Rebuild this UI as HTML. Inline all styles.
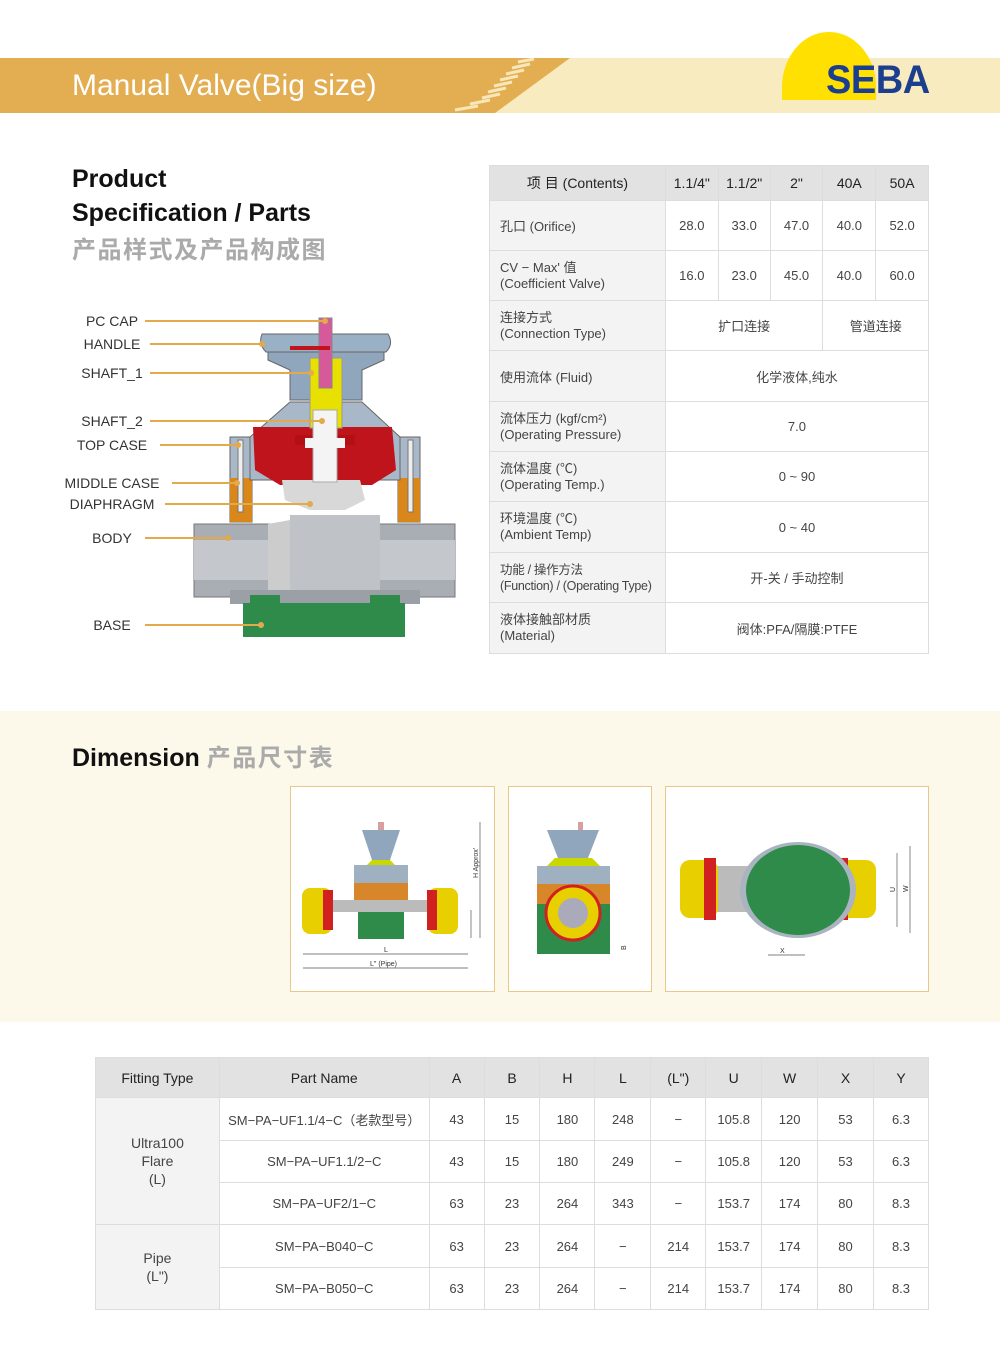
<!DOCTYPE html>
<html><head><meta charset="utf-8">
<style>
*{margin:0;padding:0;box-sizing:border-box}
body{width:1000px;height:1345px;background:#fff;position:relative;font-family:"Liberation Sans","Noto Sans CJK SC",sans-serif;color:#333;overflow:hidden}
.a{position:absolute}
.lbl{position:absolute;width:120px;left:52px;text-align:center;font-size:14px;color:#333;line-height:16px}
table{border-collapse:collapse;position:absolute;font-size:13px;color:#444}
td{border:1px solid #ddd;text-align:center;padding:0}
</style></head><body>
<!-- header -->
<div class="a" style="left:0;top:58px;width:1000px;height:55px;background:#f8ebc0"></div>
<svg class="a" style="left:0;top:58px" width="600" height="55"><polygon points="0,0 570,0 495,55 0,55" fill="#e3ad52"/>
<g stroke="#f8e7b8" stroke-width="3">
<line x1="518" y1="4" x2="534" y2="1"/><line x1="512" y1="10" x2="530" y2="6"/><line x1="506" y1="16" x2="524" y2="12"/><line x1="500" y1="22" x2="518" y2="18"/><line x1="494" y1="28" x2="512" y2="24"/><line x1="488" y1="34" x2="506" y2="30"/><line x1="482" y1="40" x2="500" y2="36"/><line x1="470" y1="46" x2="490" y2="42"/><line x1="455" y1="52" x2="478" y2="48"/></g></svg>
<div class="a" style="left:72px;top:69px;font-size:30px;color:#fff;letter-spacing:0px">Manual Valve(Big size)</div>
<div class="a" style="left:782px;top:32px;width:94px;height:68px;background:#ffe000;border-radius:47px 47px 0 0/55px 55px 0 0"></div>
<div class="a" style="left:826px;top:58px;font-size:40px;font-weight:bold;color:#1c3e8e;transform:scaleX(0.95);transform-origin:left;letter-spacing:-0.5px">SEBA</div>

<!-- product title -->
<div class="a" style="left:72px;top:162px;font-size:25px;font-weight:bold;color:#111;line-height:34px">Product<br>Specification / Parts</div>
<div class="a" style="left:72px;top:230px;font-size:24px;font-weight:bold;color:#aaa;letter-spacing:1.5px">产品样式及产品构成图</div>

<!-- labels -->
<div class="lbl" style="top:313px">PC CAP</div>
<div class="lbl" style="top:336px">HANDLE</div>
<div class="lbl" style="top:365px">SHAFT_1</div>
<div class="lbl" style="top:413px">SHAFT_2</div>
<div class="lbl" style="top:437px">TOP CASE</div>
<div class="lbl" style="top:475px">MIDDLE CASE</div>
<div class="lbl" style="top:496px">DIAPHRAGM</div>
<div class="lbl" style="top:530px">BODY</div>
<div class="lbl" style="top:617px">BASE</div>

<svg class="a" style="left:0;top:0" width="470" height="660">
<rect x="194" y="524" width="261" height="73" fill="#a9aeb4" stroke="#777"/>
<rect x="194" y="540" width="261" height="40" fill="#c4c8cc"/>
<rect x="230" y="590" width="190" height="14" fill="#9aa0a6"/>
<rect x="243" y="603" width="162" height="34" fill="#2e8b4a"/>
<rect x="250" y="595" width="30" height="12" fill="#2e8b4a"/><rect x="370" y="595" width="30" height="12" fill="#2e8b4a"/>
<path d="M268,524 L290,520 L290,590 L268,590 Z" fill="#ccc"/>
<path d="M290,515 L380,515 L380,590 L290,590 Z" fill="#bfc3c7"/>
<rect x="230" y="437" width="22" height="85" fill="#a8b8c8" stroke="#666"/>
<rect x="398" y="437" width="22" height="85" fill="#a8b8c8" stroke="#666"/>
<rect x="230" y="478" width="22" height="44" fill="#d9861a"/>
<rect x="398" y="478" width="22" height="44" fill="#d9861a"/>
<rect x="238" y="440" width="5" height="72" fill="#eee" stroke="#777"/>
<rect x="408" y="440" width="5" height="72" fill="#eee" stroke="#777"/>
<polygon points="250,437 290,402 362,402 400,437 400,480 250,480" fill="#a8b8c8" stroke="#666"/>
<polygon points="253,427 392,427 396,470 372,485 280,485 255,470" fill="#c0141c"/>
<rect x="295" y="435" width="60" height="10" fill="#b31015"/>
<polygon points="282,480 360,480 365,500 345,510 310,510 285,500" fill="#d8d8d8"/>
<polygon points="268,348 384,348 384,360 362,370 362,400 290,400 290,370 268,360" fill="#8fa6bd" stroke="#666"/>
<path d="M262,334 Q258,344 266,352 L386,352 Q394,344 388,334 Z" fill="#9ab0c4" stroke="#666"/>
<rect x="310" y="358" width="32" height="70" fill="#e8e000" stroke="#999"/>
<rect x="313" y="410" width="24" height="72" fill="#f4f4f4" stroke="#aaa"/>
<rect x="305" y="438" width="40" height="10" fill="#f4f4f4"/>
<rect x="319" y="318" width="13" height="70" fill="#d65a9a" stroke="#888"/>
<rect x="290" y="346" width="40" height="4" fill="#c0141c"/>
<g stroke="#e3a94b" stroke-width="2">
<line x1="145" y1="321" x2="325" y2="321"/>
<line x1="150" y1="344" x2="262" y2="344"/>
<line x1="150" y1="373" x2="311" y2="373"/>
<line x1="150" y1="421" x2="322" y2="421"/>
<line x1="160" y1="445" x2="238" y2="445"/>
<line x1="172" y1="483" x2="237" y2="483"/>
<line x1="165" y1="504" x2="310" y2="504"/>
<line x1="145" y1="538" x2="228" y2="538"/>
<line x1="145" y1="625" x2="261" y2="625"/>
</g>
<g fill="#e3a94b">
<circle cx="325" cy="321" r="3"/><circle cx="262" cy="344" r="3"/><circle cx="311" cy="373" r="3"/><circle cx="322" cy="421" r="3"/><circle cx="238" cy="445" r="3"/><circle cx="237" cy="483" r="3"/><circle cx="310" cy="504" r="3"/><circle cx="228" cy="538" r="3"/><circle cx="261" cy="625" r="3"/>
</g>
</svg>

<!-- spec table -->
<table style="left:489px;top:165px;width:440px">
<colgroup><col style="width:176px"><col style="width:53px"><col style="width:52px"><col style="width:53px"><col style="width:53px"><col style="width:53px"></colgroup>
<tr style="height:35px;background:#e2e2e2;font-size:14px;color:#222"><td>项 目 (Contents)</td><td>1.1/4"</td><td>1.1/2"</td><td>2"</td><td>40A</td><td>50A</td></tr>
<tr style="height:50px"><td style="text-align:left;padding-left:10px;background:#f3f3f3">孔口 (Orifice)</td><td>28.0</td><td>33.0</td><td>47.0</td><td>40.0</td><td>52.0</td></tr>
<tr style="height:50px"><td style="text-align:left;padding-left:10px;background:#f3f3f3;line-height:16px">CV − Max' 值<br>(Coefficient Valve)</td><td>16.0</td><td>23.0</td><td>45.0</td><td>40.0</td><td>60.0</td></tr>
<tr style="height:50px"><td style="text-align:left;padding-left:10px;background:#f3f3f3;line-height:16px">连接方式<br>(Connection Type)</td><td colspan="3">扩口连接</td><td colspan="2">管道连接</td></tr>
<tr style="height:51px"><td style="text-align:left;padding-left:10px;background:#f3f3f3">使用流体 (Fluid)</td><td colspan="5">化学液体,纯水</td></tr>
<tr style="height:50px"><td style="text-align:left;padding-left:10px;background:#f3f3f3;line-height:16px">流体压力 (kgf/cm²)<br>(Operating Pressure)</td><td colspan="5">7.0</td></tr>
<tr style="height:50px"><td style="text-align:left;padding-left:10px;background:#f3f3f3;line-height:16px">流体温度 (℃)<br>(Operating Temp.)</td><td colspan="5">0 ~ 90</td></tr>
<tr style="height:51px"><td style="text-align:left;padding-left:10px;background:#f3f3f3;line-height:16px">环境温度 (℃)<br>(Ambient Temp)</td><td colspan="5">0 ~ 40</td></tr>
<tr style="height:50px"><td style="text-align:left;padding-left:10px;background:#f3f3f3;line-height:16px;font-size:12.5px;letter-spacing:-0.3px;white-space:nowrap">功能 / 操作方法<br>(Function) / (Operating Type)</td><td colspan="5">开-关 / 手动控制</td></tr>
<tr style="height:51px"><td style="text-align:left;padding-left:10px;background:#f3f3f3;line-height:16px">液体接触部材质<br>(Material)</td><td colspan="5">阀体:PFA/隔膜:PTFE</td></tr>
</table>

<!-- dimension -->
<div class="a" style="left:0;top:711px;width:1000px;height:311px;background:#fdf9ea"></div>
<div class="a" style="left:72px;top:738px;font-size:25px;font-weight:bold;color:#111">Dimension <span style="color:#aaa;font-size:24px;letter-spacing:1.5px">产品尺寸表</span></div>

<svg class="a" style="left:0;top:0" width="1000" height="1000">
<rect x="290.5" y="786.5" width="204" height="205" fill="#fff" stroke="#e8c98a"/>
<rect x="508.5" y="786.5" width="143" height="205" fill="#fff" stroke="#e8c98a"/>
<rect x="665.5" y="786.5" width="263" height="205" fill="#fff" stroke="#e8c98a"/>
<polygon points="362,830 400,830 390,860 372,860" fill="#8fa6bd"/>
<rect x="378" y="822" width="6" height="8" fill="#d6a0a0"/>
<polygon points="372,860 390,860 402,872 360,872" fill="#c8d800"/>
<rect x="354" y="865" width="54" height="18" fill="#9fb0c0"/>
<rect x="354" y="883" width="54" height="18" fill="#d8862a"/>
<rect x="358" y="901" width="46" height="38" fill="#2e8b4a"/>
<rect x="330" y="900" width="100" height="12" fill="#bbb"/>
<rect x="302" y="888" width="30" height="46" rx="8" fill="#e8d000"/>
<rect x="428" y="888" width="30" height="46" rx="8" fill="#e8d000"/>
<rect x="323" y="890" width="10" height="40" fill="#d02020"/><rect x="427" y="890" width="10" height="40" fill="#d02020"/>
<g stroke="#555" stroke-width="0.7" fill="none"><line x1="303" y1="954" x2="468" y2="954"/><line x1="303" y1="968" x2="468" y2="968"/><line x1="480" y1="822" x2="480" y2="938"/><line x1="471" y1="910" x2="471" y2="938"/></g>
<text x="384" y="952" font-size="7" fill="#333">L</text><text x="370" y="966" font-size="7" fill="#333">L" (Pipe)</text>
<text x="478" y="878" font-size="7" fill="#333" transform="rotate(-90 478 878)">H Approx'</text>
<polygon points="547,830 599,830 588,858 558,858" fill="#8fa6bd"/>
<rect x="578" y="822" width="5" height="8" fill="#d6a0a0"/>
<polygon points="555,858 592,858 600,866 547,866" fill="#c8d800"/>
<rect x="537" y="866" width="73" height="18" fill="#9fb0c0"/>
<rect x="537" y="884" width="73" height="20" fill="#d8862a"/>
<rect x="537" y="904" width="73" height="30" fill="#2e8b4a"/>
<rect x="537" y="934" width="73" height="20" fill="#2e8b4a"/>
<circle cx="573" cy="913" r="27" fill="#e8d000" stroke="#d02020" stroke-width="3"/>
<circle cx="573" cy="913" r="15" fill="#aab"/>
<text x="626" y="950" font-size="7" fill="#333" transform="rotate(-90 626 950)">B</text>
<rect x="715" y="866" width="160" height="46" fill="#bbb"/>
<rect x="680" y="860" width="38" height="58" rx="10" fill="#e8d000"/>
<rect x="838" y="860" width="38" height="58" rx="10" fill="#e8d000"/>
<rect x="704" y="858" width="12" height="62" fill="#d02020"/><rect x="836" y="858" width="12" height="62" fill="#d02020"/>
<ellipse cx="798" cy="890" rx="58" ry="48" fill="#aab4c0"/>
<ellipse cx="798" cy="890" rx="52" ry="45" fill="#2e8b4a"/>
<g stroke="#555" stroke-width="0.7" fill="none"><line x1="910" y1="846" x2="910" y2="933"/><line x1="897" y1="853" x2="897" y2="927"/><line x1="768" y1="955" x2="805" y2="955"/></g>
<text x="780" y="953" font-size="7" fill="#333">X</text>
<text x="895" y="892" font-size="7" fill="#333" transform="rotate(-90 895 892)">U</text>
<text x="908" y="892" font-size="7" fill="#333" transform="rotate(-90 908 892)">W</text>
</svg>

<!-- bottom table -->
<table style="left:95px;top:1057px;width:834px;font-size:13px">
<colgroup><col style="width:124px"><col style="width:210px"><col style="width:55px"><col style="width:56px"><col style="width:55px"><col style="width:56px"><col style="width:55px"><col style="width:56px"><col style="width:56px"><col style="width:56px"><col style="width:55px"></colgroup>
<tr style="height:40px;background:#e2e2e2;font-size:14px;color:#222"><td>Fitting Type</td><td>Part Name</td><td>A</td><td>B</td><td>H</td><td>L</td><td>(L")</td><td>U</td><td>W</td><td>X</td><td>Y</td></tr>
<tr style="height:43px"><td rowspan="3" style="background:#f3f3f3;font-size:14px;line-height:18px">Ultra100<br>Flare<br>(L)</td><td>SM−PA−UF1.1/4−C（老款型号）</td><td>43</td><td>15</td><td>180</td><td>248</td><td>−</td><td>105.8</td><td>120</td><td>53</td><td>6.3</td></tr>
<tr style="height:42px"><td>SM−PA−UF1.1/2−C</td><td>43</td><td>15</td><td>180</td><td>249</td><td>−</td><td>105.8</td><td>120</td><td>53</td><td>6.3</td></tr>
<tr style="height:42px"><td>SM−PA−UF2/1−C</td><td>63</td><td>23</td><td>264</td><td>343</td><td>−</td><td>153.7</td><td>174</td><td>80</td><td>8.3</td></tr>
<tr style="height:43px"><td rowspan="2" style="background:#f3f3f3;font-size:14px;line-height:18px">Pipe<br>(L")</td><td>SM−PA−B040−C</td><td>63</td><td>23</td><td>264</td><td>−</td><td>214</td><td>153.7</td><td>174</td><td>80</td><td>8.3</td></tr>
<tr style="height:42px"><td>SM−PA−B050−C</td><td>63</td><td>23</td><td>264</td><td>−</td><td>214</td><td>153.7</td><td>174</td><td>80</td><td>8.3</td></tr>
</table>
</body></html>
